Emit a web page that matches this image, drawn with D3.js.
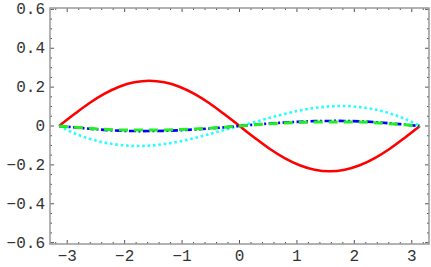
<!DOCTYPE html>
<html>
<head>
<meta charset="utf-8">
<script src="https://cdn.jsdelivr.net/npm/d3@7"></script>
<style>
  body { margin: 0; background: #fff; }
  svg { display: block; }
  .lbl { font-family: "Liberation Mono", "DejaVu Sans Mono", monospace; font-size: 16px; fill: #333; }
</style>
</head>
<body>
<div id="chart"></div>
<script>
// sample positions (multiples of pi/12 from -pi to pi)
var xs = [-3.1416, -2.8798, -2.6180, -2.3562, -2.0944, -1.8326, -1.5708, -1.3090, -1.0472, -0.7854, -0.5236, -0.2618,
          0, 0.2618, 0.5236, 0.7854, 1.0472, 1.3090, 1.5708, 1.8326, 2.0944, 2.3562, 2.6180, 2.8798, 3.1416];

// values
var redVals   = [0, 0.060, 0.117, 0.165, 0.202, 0.225, 0.233, 0.225, 0.202, 0.165, 0.117, 0.060,
                 0, -0.060, -0.117, -0.165, -0.202, -0.225, -0.233, -0.225, -0.202, -0.165, -0.117, -0.060, 0];
var cyanVals  = [0, -0.037, -0.065, -0.085, -0.097, -0.103, -0.101, -0.093, -0.080, -0.062, -0.042, -0.020,
                 0, 0.020, 0.042, 0.062, 0.080, 0.093, 0.101, 0.103, 0.097, 0.085, 0.065, 0.037, 0];
var blueVals  = [0, -0.007, -0.014, -0.020, -0.024, -0.026, -0.026, -0.025, -0.022, -0.018, -0.013, -0.007,
                 0, 0.007, 0.013, 0.018, 0.022, 0.025, 0.026, 0.026, 0.024, 0.020, 0.014, 0.007, 0];
var greenVals = [0, -0.006, -0.012, -0.017, -0.020, -0.021, -0.021, -0.020, -0.018, -0.015, -0.011, -0.006,
                 0, 0.006, 0.011, 0.015, 0.018, 0.020, 0.021, 0.021, 0.020, 0.017, 0.012, 0.006, 0];

var xTicks = [-3, -2, -1, 0, 1, 2, 3];
var yTicks = [-0.6, -0.4, -0.2, 0, 0.2, 0.4, 0.6];

var width = 431, height = 267;
var x = d3.scaleLinear().domain([-3.3, 3.3]).range([50, 429]);
var y = d3.scaleLinear().domain([-0.607, 0.607]).range([244, 8]);

var svg = d3.select("#chart").append("svg")
    .attr("width", width)
    .attr("height", height);

function fmt(v) {
  var s = (Math.round(v * 10) / 10).toString();
  return s.replace("-", "\u2212");
}

// minor ticks
var xMinor = d3.range(-3.2, 3.21, 0.2).map(function (d) { return Math.round(d * 10) / 10; });
var yMinor = d3.range(-0.6, 0.601, 0.05).map(function (d) { return Math.round(d * 100) / 100; });

var tickG = svg.append("g").attr("stroke", "#555").attr("stroke-width", 1);

// bottom and top ticks
tickG.selectAll(".xm").data(xMinor).enter().append("line")
    .attr("x1", function (d) { return x(d); }).attr("x2", function (d) { return x(d); })
    .attr("y1", 244).attr("y2", function (d) { return Number.isInteger(d) ? 240 : 242; });
tickG.selectAll(".xt").data(xMinor).enter().append("line")
    .attr("x1", function (d) { return x(d); }).attr("x2", function (d) { return x(d); })
    .attr("y1", 8).attr("y2", function (d) { return Number.isInteger(d) ? 12 : 10; });

// left and right ticks
function isMajorY(d) { return Math.abs(Math.round(d * 5) - d * 5) < 1e-6; }
tickG.selectAll(".yl").data(yMinor).enter().append("line")
    .attr("y1", function (d) { return y(d); }).attr("y2", function (d) { return y(d); })
    .attr("x1", 50).attr("x2", function (d) { return isMajorY(d) ? 54 : 52; });
tickG.selectAll(".yr").data(yMinor).enter().append("line")
    .attr("y1", function (d) { return y(d); }).attr("y2", function (d) { return y(d); })
    .attr("x1", 429).attr("x2", function (d) { return isMajorY(d) ? 425 : 427; });

// frame
svg.append("rect")
    .attr("x", 50).attr("y", 8)
    .attr("width", 379).attr("height", 236)
    .attr("fill", "none")
    .attr("stroke", "#999")
    .attr("stroke-width", 1.5);

// tick labels
svg.selectAll(".xl").data(xTicks).enter().append("text")
    .attr("class", "lbl")
    .attr("x", function (d) { return x(d); })
    .attr("y", 261)
    .attr("text-anchor", "middle")
    .text(fmt);

svg.selectAll(".ylb").data(yTicks).enter().append("text")
    .attr("class", "lbl")
    .attr("x", 45)
    .attr("y", function (d) { return y(d) + 5; })
    .attr("text-anchor", "end")
    .text(fmt);

// curves
var line = d3.line()
    .x(function (d) { return x(d[0]); })
    .y(function (d) { return y(d[1]); })
    .curve(d3.curveCardinal);

function series(vals) { return xs.map(function (v, i) { return [v, vals[i]]; }); }

var plot = svg.append("g").attr("fill", "none");

plot.append("path").datum(series(cyanVals))
    .attr("d", line)
    .attr("stroke", "#22ffff")
    .attr("stroke-width", 2.6)
    .attr("stroke-dasharray", "2.6,2.8");

plot.append("path").datum(series(redVals))
    .attr("d", line)
    .attr("stroke", "#ff0000")
    .attr("stroke-width", 2.6);

plot.append("path").datum(series(blueVals))
    .attr("d", line)
    .attr("stroke", "#0000ff")
    .attr("stroke-width", 2.6)
    .attr("stroke-dasharray", "7,2.5,2,2.5");

plot.append("path").datum(series(greenVals))
    .attr("d", line)
    .attr("stroke", "#22ee22")
    .attr("stroke-width", 3)
    .attr("stroke-dasharray", "9,6");
</script>
</body>
</html>
